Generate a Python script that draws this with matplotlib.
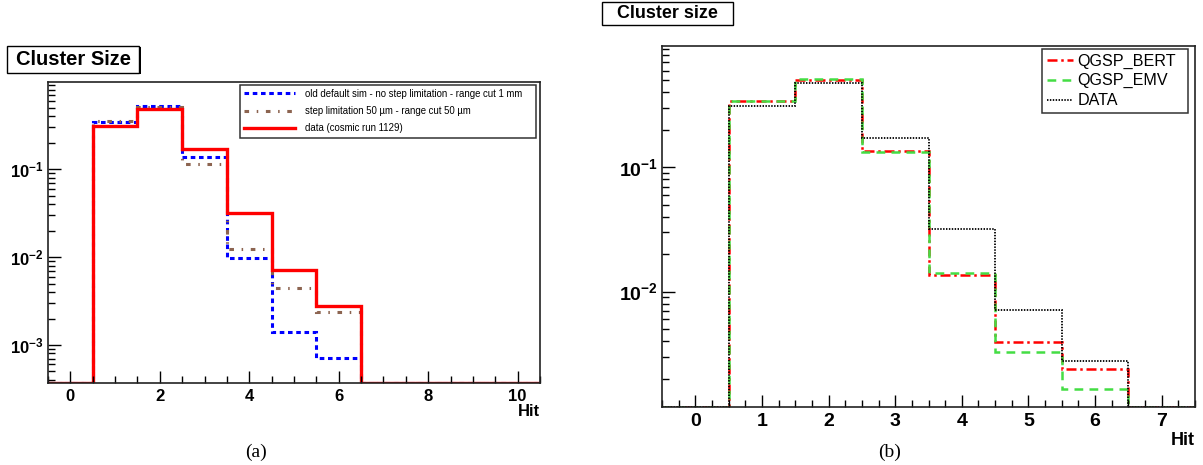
import numpy as np
import matplotlib
matplotlib.use("Agg")
import matplotlib.pyplot as plt
from matplotlib.patches import Rectangle
from matplotlib.ticker import FixedLocator, FixedFormatter, MultipleLocator, NullFormatter

plt.rcParams['font.family'] = ['Liberation Sans', 'DejaVu Sans']
plt.rcParams['mathtext.fontset'] = 'custom'
plt.rcParams['mathtext.rm'] = 'Liberation Sans'
plt.rcParams['mathtext.bf'] = 'Liberation Sans:bold'

# ---- data (a) : bins centred on 0..10
hits_a = np.arange(0, 11)
old_sim = [0, 0.345, 0.52, 0.137, 0.0097, 0.00141, 0.00072, 0, 0, 0, 0]
step_lim = [0, 0.354, 0.517, 0.115, 0.0123, 0.0044, 0.00237, 0, 0, 0, 0]
data_a = [0, 0.313, 0.485, 0.172, 0.0316, 0.00717, 0.00275, 0, 0, 0, 0]
labels_a = ["old default sim - no step limitation - range cut 1 mm",
            "step limitation 50 \u00b5m - range cut 50 \u00b5m",
            "data (cosmic run 1129)"]

# ---- data (b) : bins centred on 0..7
hits_b = np.arange(0, 8)
qgsp_bert = [0, 0.34, 0.504, 0.135, 0.0135, 0.00396, 0.00239, 0]
qgsp_emv = [0, 0.34, 0.51, 0.134, 0.0141, 0.00329, 0.00165, 0]
data_b = [0, 0.313, 0.474, 0.172, 0.0317, 0.00713, 0.00277, 0]
labels_b = ["QGSP_BERT", "QGSP_EMV", "DATA"]

W, H = 1203, 465
fig = plt.figure(figsize=(W / 100, H / 100), dpi=100)


def px_axes(x0, y0, x1, y1):
    return fig.add_axes([x0 / W, 1 - y1 / H, (x1 - x0) / W, (y1 - y0) / H])


def title_box(x0, y0, x1, y1, txt, size):
    # little shadow like ROOT panes
    fig.add_artist(Rectangle((x0 / W + 1.5 / W, 1 - y1 / H - 1.5 / H), (x1 - x0) / W, (y1 - y0) / H,
                             transform=fig.transFigure, fc='black', ec='black', lw=0))
    fig.add_artist(Rectangle((x0 / W, 1 - y1 / H), (x1 - x0) / W, (y1 - y0) / H,
                             transform=fig.transFigure, fc='white', ec='black', lw=1))
    fig.text((x0 + x1) / 2 / W, 1 - (y0 + y1) / 2 / H, txt, ha='center', va='center',
             fontsize=size, fontweight='bold')


def hist_line(ax, centers, vals, ymin, **kw):
    edges = np.append(centers - 0.5, centers[-1] + 0.5)
    v = np.array(vals, dtype=float)
    v = np.where(v > 0, v, ymin)
    ax.stairs(v, edges, baseline=None, **kw)


def style_axes(ax, xlo, xhi, ylo, yhi, majors, ylabels, fs, xmaj, xmin_step):
    ax.set_yscale('log')
    ax.set_xlim(xlo, xhi)
    ax.set_ylim(ylo, yhi)
    ax.yaxis.set_major_locator(FixedLocator(majors))
    ax.yaxis.set_major_formatter(FixedFormatter(ylabels))
    mins = [m * 10.0 ** e for e in range(-5, 1) for m in range(2, 10)]
    ax.yaxis.set_minor_locator(FixedLocator(mins))
    ax.yaxis.set_minor_formatter(NullFormatter())
    ax.xaxis.set_major_locator(MultipleLocator(xmaj))
    ax.xaxis.set_minor_locator(MultipleLocator(xmin_step))
    ax.tick_params(axis='both', which='major', direction='in', length=9, width=1,
                   labelsize=fs, top=False, right=False)
    ax.tick_params(axis='both', which='minor', direction='in', length=5, width=1,
                   top=False, right=False)
    ax.tick_params(axis='x', pad=4)
    ax.tick_params(axis='y', pad=3)
    for lab in ax.get_xticklabels() + ax.get_yticklabels():
        lab.set_fontweight('bold')
    for s in ax.spines.values():
        s.set_color('#222222')
        s.set_linewidth(1.2)


# ================= panel (a)
ya0, ya1 = 3.69e-4, 0.986
axa = px_axes(48, 82, 540, 383)
hist_line(axa, hits_a, old_sim, ya0, color='#0000ff', lw=2.2, ls=(0, (1.5, 1.2)), label=labels_a[0])
hist_line(axa, hits_a, step_lim, ya0, color='#8c6450', lw=2.2, ls=(0, (1.5, 2.5, 0.5, 2.5)), label=labels_a[1])
hist_line(axa, hits_a, data_a, ya0, color='#ff0000', lw=2.4, label=labels_a[2])
style_axes(axa, -0.5, 10.5, ya0, ya1, [1e-3, 1e-2, 1e-1],
           [r'$\mathbf{10^{-3}}$', r'$\mathbf{10^{-2}}$', r'$\mathbf{10^{-1}}$'], 12, 2, 0.5)
fig.text(540 / W, 1 - 411 / H, "Hit", ha='right', va='center', fontsize=12, fontweight='bold')
leg_a = axa.legend(loc='upper left', bbox_to_anchor=(240 / W, 1 - 85 / H, 296 / W, 0.001),
                   bbox_transform=fig.transFigure, mode='expand', fontsize=6.9, frameon=True,
                   fancybox=False, edgecolor='black', handlelength=5.3, handletextpad=1.05,
                   labelspacing=0.75, borderpad=0.45, borderaxespad=0)
leg_a.get_frame().set_linewidth(1.1)
title_box(7, 46, 139, 73, "Cluster Size", 14.5)
fig.text(256 / W, 1 - 452 / H, "(a)", ha='center', va='center', fontsize=14, family='Liberation Serif')

# ================= panel (b)
yb0, yb1 = 1.18e-3, 0.946
axb = px_axes(662, 46, 1195, 407)
hist_line(axb, hits_b, qgsp_bert, yb0, color='#ff0000', lw=1.8, ls=(0, (4, 1.5, 1, 1.5)), label=labels_b[0])
hist_line(axb, hits_b, qgsp_emv, yb0, color='#44dd44', lw=1.8, ls=(0, (3.5, 2.5)), label=labels_b[1])
hist_line(axb, hits_b, data_b, yb0, color='black', lw=1.3, ls=(0, (0.8, 0.8)), label=labels_b[2])
style_axes(axb, -0.5, 7.5, yb0, yb1, [1e-2, 1e-1],
           [r'$\mathbf{10^{-2}}$', r'$\mathbf{10^{-1}}$'], 14, 1, 0.25)
fig.text(1195 / W, 1 - 440 / H, "Hit", ha='right', va='center', fontsize=13, fontweight='bold')
leg_b = axb.legend(loc='upper left', bbox_to_anchor=(1042 / W, 1 - 49 / H, 146 / W, 0.001),
                   bbox_transform=fig.transFigure, mode='expand', fontsize=11.6, frameon=True,
                   fancybox=False, edgecolor='black', handlelength=1.6, handletextpad=0.3,
                   labelspacing=0.3, borderpad=0.3, borderaxespad=0)
leg_b.get_frame().set_linewidth(1.1)
title_box(602, 2, 733, 25, "Cluster size", 12.9)
fig.text(890 / W, 1 - 452 / H, "(b)", ha='center', va='center', fontsize=14, family='Liberation Serif')

fig.savefig("out.png", dpi=100)
